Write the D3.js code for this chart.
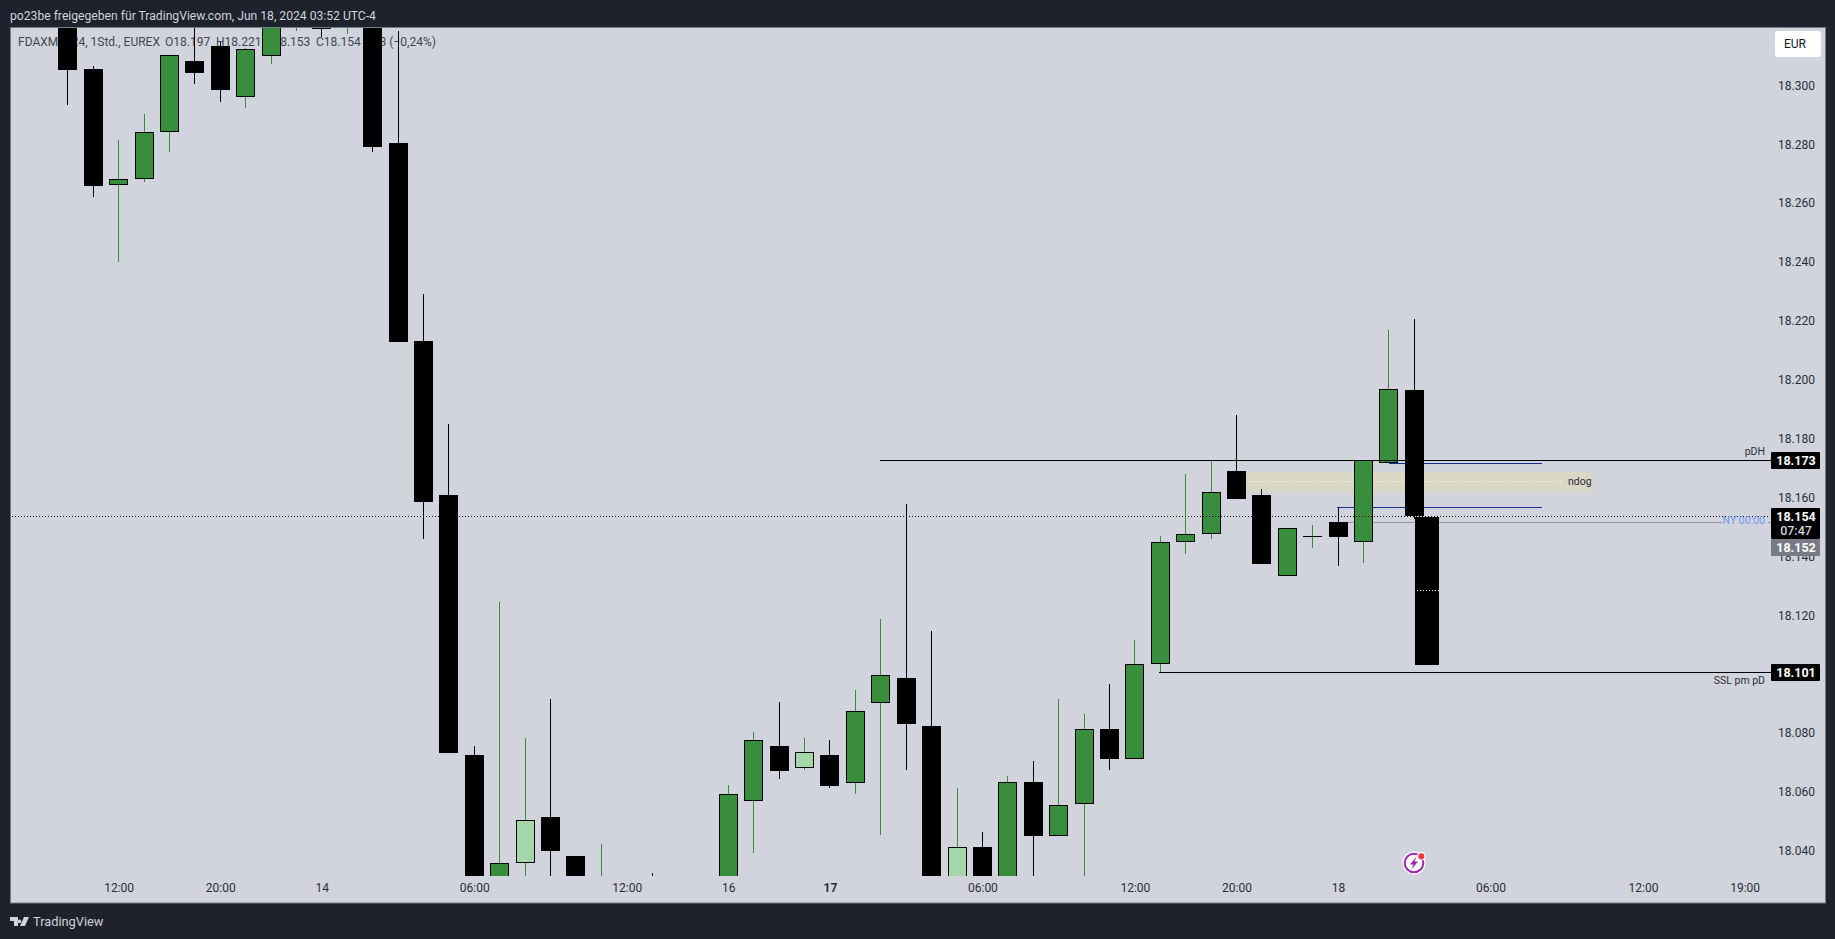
<!DOCTYPE html>
<html>
<head>
<meta charset="utf-8">
<script src="https://cdn.jsdelivr.net/npm/d3@7"></script>
<style>
html, body { margin: 0; padding: 0; background: #1e222d; overflow: hidden; }
svg { display: block; }
text { font-family: Roboto, sans-serif; }
</style>
</head>
<body>
<script>
// hourly candles, values. bars that leave the visible range only have rough values
var opens = [18330,18305.9,18266.4,18268.5,18284.4,18308.6,18313.7,18296.5,18310.4,18322,18325,18322,18340,18280.8,18213.5,18161.2,18072.9,18025,18036.3,18051.8,18038.6,18020,18020,18028,18015,18015,18025,18057.4,18075.9,18068.6,18072.9,18063.5,18090.7,18099,18082.7,18025,18041.6,18025,18063.7,18045.5,18056.3,18081.7,18071.6,18103.7,18145.1,18147.9,18169.4,18161.2,18133.8,18147.2,18152,18145.1,18172,18197];
var highs = [18335,18306.9,18281.8,18290.6,18310.6,18330,18315.2,18313,18335,18338,18330,18335,18345,18318.8,18229.5,18185.3,18075.9,18124.9,18078.7,18091.9,18038.6,18042.7,18022,18032.8,18028,18028,18062.7,18080.7,18090.9,18078.7,18078,18095,18119.1,18158.2,18115,18061.7,18046.7,18065.8,18070.9,18091.9,18086.8,18097,18112,18147.3,18168.3,18173,18188.4,18163.3,18149.9,18151,18157,18173,18217.3,18221];
var lows = [18293.7,18262.5,18240.5,18267.6,18277.8,18300.8,18294.8,18292.8,18307.7,18318.8,18316.9,18317.9,18277.8,18213.2,18146.3,18073.7,18020,18020,18020,18020,18020,18015,18010,18015,18010,18010,18020,18039.6,18064.7,18067.8,18061.7,18059.6,18045.7,18067.8,18020,18020,18020,18020,18020,18045.5,18020,18067.8,18071.6,18101,18141.2,18146.4,18160,18137.9,18133.8,18143.2,18137.2,18138.1,18172,18153];
var closes = [18305.6,18266.3,18268.5,18284.4,18310.6,18304.7,18298.6,18312.6,18330,18335,18319.6,18330,18279.5,18213.2,18158.8,18073.7,18025,18036.4,18050.7,18040.3,18025,18025,18015,18020,18025,18025,18059.5,18077.9,18067.6,18073.8,18062.4,18087.7,18100,18083.4,18025,18041.5,18025,18063.6,18045.5,18055.8,18081.6,18071.6,18103.7,18145.1,18147.9,18162.1,18160,18137.9,18149.9,18147.2,18147,18173,18197.1,18154];
var lightBars = [18, 29, 35];

var priceTicks = [18040,18060,18080,18100,18120,18140,18160,18180,18200,18220,18240,18260,18280,18300];
var timeTickBars = [2,6,10,16,22,26,30,36,42,46,50,56,62,66];
var timeTickLabels = ["12:00","20:00","14","06:00","12:00","16","17","06:00","12:00","20:00","18","06:00","12:00","19:00"];

var W = 1835, H = 939;
var plotLeft = 11, plotRight = 1771, plotTop = 28, plotBottom = 876;
var upColor = "#388e3c", lightColor = "#a5d6a7", downColor = "#000000", paneBg = "#d1d4dc", darkBg = "#1e222d";

var x = d3.scaleLinear().domain([0, 66]).range([67.8, 1744.6]);
var y = d3.scaleLinear().domain([18173, 18101]).range([460.3, 672.3]);

function crisp(v) { return Math.floor(v) + 0.5; }

var svg = d3.select("body").append("svg").attr("width", W).attr("height", H);

svg.append("rect").attr("width", W).attr("height", H).attr("fill", darkBg);
svg.append("rect").attr("x", 10.5).attr("y", 27.5).attr("width", 1815).attr("height", 875.5)
    .attr("fill", paneBg).attr("stroke", "#787b86");

svg.append("defs").append("clipPath").attr("id", "pane")
  .append("rect").attr("x", plotLeft).attr("y", plotTop).attr("width", plotRight - plotLeft).attr("height", plotBottom - plotTop);

// header + footer
svg.append("text").attr("x", 10).attr("y", 19.5).attr("fill", "#d1d4dc").style("font-size", "12.15px")
    .text("po23be freigegeben für TradingView.com, Jun 18, 2024 03:52 UTC-4");
svg.append("path").attr("fill", "#d1d4dc")
    .attr("d", "M10 917h8v9h-4v-5h-4z M19.5 919.5a1.8 1.8 0 1 0 0.01 0z M24 917h5l-4 9h-5z");
svg.append("text").attr("x", 33).attr("y", 926).attr("fill", "#d1d4dc").style("font-size", "12.8px").text("TradingView");

// legend sits under the candles
var legendText = ["FDAXM2024, 1Std., EUREX", "O18.197", "H18.221", "L18.153", "C18.154", "−43 (−0,24%)"];
var legendX = [18, 165, 216, 267, 316, 366];
svg.append("g").selectAll("text").data(legendText).enter().append("text")
    .attr("x", function(d, i) { return legendX[i]; })
    .attr("y", 45.5)
    .attr("fill", "#434651")
    .style("font-size", "12px")
    .text(function(d) { return d; });

// price axis
var yAxis = d3.axisRight(y).tickValues(priceTicks).tickSize(0).tickPadding(0)
    .tickFormat(function(d) { return d3.format(".3f")(d / 1000); });
var yG = svg.append("g").attr("transform", "translate(1778,-1)").call(yAxis);
yG.select(".domain").remove();
yG.selectAll("text").attr("fill", "#2a2e39").style("font-size", "12px").style("font-family", "Roboto, sans-serif");

// time axis
var xAxis = d3.axisBottom(x).tickValues(timeTickBars).tickSize(0).tickPadding(0)
    .tickFormat(function(d, i) { return timeTickLabels[i]; });
var xG = svg.append("g").attr("transform", "translate(0,883)").call(xAxis);
xG.select(".domain").remove();
xG.selectAll("text").attr("fill", "#2a2e39").style("font-size", "12px").style("font-family", "Roboto, sans-serif")
    .style("font-weight", function(d, i) { return timeTickLabels[i] == "17" ? 700 : 400; });

var pane = svg.append("g").attr("clip-path", "url(#pane)");

// ndog box behind the bars
var ndogTop = 18169, ndogBottom = 18162.3, ndogMid = 18165.9;
pane.append("rect").attr("x", 1246).attr("width", 346)
    .attr("y", Math.round(y(ndogTop))).attr("height", Math.round(y(ndogBottom)) - Math.round(y(ndogTop)))
    .attr("fill", "#d8d8c5");
pane.append("line").attr("x1", 1248).attr("x2", 1563).attr("y1", crisp(y(ndogMid))).attr("y2", crisp(y(ndogMid)))
    .attr("stroke", "#ffffff").attr("stroke-dasharray", "1 2");

// level lines behind the bars
var blueLevels = [18172, 18157];
var blueStart = [1389, 1337];
pane.selectAll(".blue").data(blueLevels).enter().append("line").attr("class", "blue")
    .attr("x1", function(d, i) { return blueStart[i]; }).attr("x2", 1542)
    .attr("y1", function(d) { return crisp(y(d)); }).attr("y2", function(d) { return crisp(y(d)); })
    .attr("stroke", "#12318f");
var nyOpen = 18152;
pane.append("line").attr("x1", 1345).attr("x2", 1722).attr("y1", crisp(y(nyOpen))).attr("y2", crisp(y(nyOpen))).attr("stroke", "#9598a1");
pane.append("line").attr("x1", 1768).attr("x2", 1771).attr("y1", crisp(y(nyOpen))).attr("y2", crisp(y(nyOpen))).attr("stroke", "#9598a1");

// candles
var bars = pane.selectAll(".bar").data(d3.range(opens.length)).enter().append("g").attr("class", "bar");

bars.append("line")
    .attr("x1", function(i) { return crisp(x(i)); })
    .attr("x2", function(i) { return crisp(x(i)); })
    .attr("y1", function(i) { return Math.round(y(highs[i])); })
    .attr("y2", function(i) { return Math.round(y(lows[i])); })
    .attr("stroke", function(i) { return closes[i] >= opens[i] ? upColor : downColor; });

function bodyTop(i) { return Math.round(y(Math.max(opens[i], closes[i]))); }
function bodyH(i) { return Math.max(1, Math.round(y(Math.min(opens[i], closes[i]))) - bodyTop(i)); }

bars.append("rect")
    .attr("x", function(i) { return Math.floor(x(i)) - 9; })
    .attr("y", bodyTop)
    .attr("width", 19)
    .attr("height", bodyH)
    .attr("fill", "#000");

bars.filter(function(i) { return closes[i] >= opens[i] && bodyH(i) > 2; }).append("rect")
    .attr("x", function(i) { return Math.floor(x(i)) - 8; })
    .attr("y", function(i) { return bodyTop(i) + 1; })
    .attr("width", 17)
    .attr("height", function(i) { return bodyH(i) - 2; })
    .attr("fill", function(i) { return lightBars.indexOf(i) >= 0 ? lightColor : upColor; });

// long/short black box on the right
var boxTop = 18153.8, boxBottom = 18103.6, boxMid = 18128.8;
pane.append("rect").attr("x", 1415).attr("width", 24)
    .attr("y", Math.round(y(boxTop))).attr("height", Math.round(y(boxBottom)) - Math.round(y(boxTop)))
    .attr("fill", "#000");
pane.append("line").attr("x1", 1417).attr("x2", 1439).attr("y1", crisp(y(boxMid))).attr("y2", crisp(y(boxMid)))
    .attr("stroke", "#fff").attr("stroke-dasharray", "1 2");

// pDH and SSL
var pdh = 18173, ssl = 18101, lastPrice = 18154;
pane.append("line").attr("x1", 880).attr("x2", plotRight).attr("y1", crisp(y(pdh))).attr("y2", crisp(y(pdh))).attr("stroke", "#000");
pane.append("line").attr("x1", 1159).attr("x2", plotRight).attr("y1", crisp(y(ssl))).attr("y2", crisp(y(ssl))).attr("stroke", "#000");
pane.append("line").attr("x1", 12).attr("x2", 1770).attr("y1", crisp(y(lastPrice))).attr("y2", crisp(y(lastPrice)))
    .attr("stroke", "#000").attr("stroke-dasharray", "1 2");

// drawing labels
var drawLabels = [
    {t: "pDH", v: pdh, dy: -8.5, c: "#2a2e39"},
    {t: "SSL pm pD", v: ssl, dy: 8, c: "#2a2e39"},
    {t: "NY 00:00", v: nyOpen, dy: -1.5, c: "#6f9cf5"}
];
svg.selectAll(".drawlabel").data(drawLabels).enter().append("text").attr("class", "drawlabel")
    .attr("x", 1765)
    .attr("y", function(d) { return y(d.v) + d.dy; })
    .attr("dy", "0.35em")
    .attr("text-anchor", "end")
    .attr("fill", function(d) { return d.c; })
    .style("font-size", "10.5px")
    .text(function(d) { return d.t; });
svg.append("text").attr("x", 1568).attr("y", y(ndogMid)).attr("dy", "0.35em").attr("fill", "#2a2e39").style("font-size", "10.5px").text("ndog");

// price labels on the scale
var priceBoxes = [
    {v: pdh, label: "18.173", top: 452, h: 17, fill: "#000"},
    {v: ssl, label: "18.101", top: 664, h: 17, fill: "#000"},
    {v: nyOpen, label: "18.152", top: 539, h: 17, fill: "#787b86"},
    {v: lastPrice, label: "18.154", top: 508, h: 31, fill: "#000"}
];
svg.selectAll(".pricebox").data(priceBoxes).enter().append("rect").attr("class", "pricebox")
    .attr("x", 1771).attr("width", 49)
    .attr("y", function(d) { return d.top; })
    .attr("height", function(d) { return d.h; })
    .attr("rx", 1)
    .attr("fill", function(d) { return d.fill; });
svg.selectAll(".pricetext").data(priceBoxes).enter().append("text").attr("class", "pricetext")
    .attr("x", 1796)
    .attr("y", function(d) { return d.top + 8.5; })
    .attr("dy", "0.35em")
    .attr("text-anchor", "middle")
    .attr("fill", "#fff")
    .style("font-size", "12.5px")
    .style("font-weight", 700)
    .text(function(d) { return d.label; });
svg.append("text").attr("x", 1796).attr("y", 530.5).attr("dy", "0.35em").attr("text-anchor", "middle")
    .attr("fill", "#d1d4dc").style("font-size", "12.5px").style("font-weight", 500).text("07:47");

// currency button
svg.append("rect").attr("x", 1775).attr("y", 31).attr("width", 46).attr("height", 26).attr("rx", 3).attr("fill", "#fff");
svg.append("text").attr("x", 1784).attr("y", 44).attr("dy", "0.35em").attr("fill", "#131722").style("font-size", "12px").text("EUR");

// little alert icon
var icon = svg.append("g").attr("transform", "translate(1414,863)");
icon.append("circle").attr("r", 11.5).attr("fill", "#fff");
icon.append("circle").attr("r", 9.3).attr("fill", "none").attr("stroke", "#9c27b0").attr("stroke-width", 2);
icon.append("path").attr("d", "M2.5 -6.5L-4 1.5H-0.5L-2.5 6.5L4 -1.5H0.5z").attr("fill", "#9c27b0");
icon.append("circle").attr("cx", 7.3).attr("cy", -6.7).attr("r", 4.3).attr("fill", "#fff");
icon.append("circle").attr("cx", 7.3).attr("cy", -6.7).attr("r", 3.1).attr("fill", "#f23645");
</script>
</body>
</html>
